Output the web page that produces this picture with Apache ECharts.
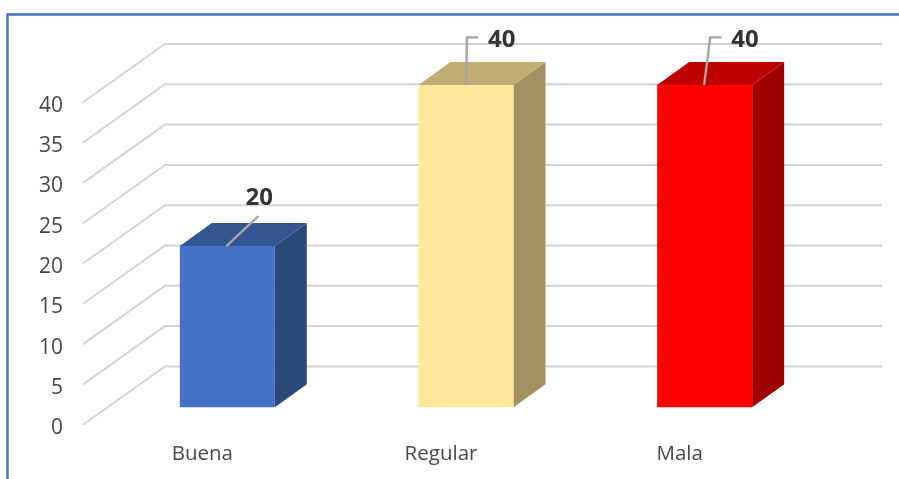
<!DOCTYPE html>
<html>
<head>
<meta charset="utf-8">
<style>html,body{margin:0;padding:0;background:#fff}#c{width:899px;height:479px}</style>
<script src="https://cdn.jsdelivr.net/npm/echarts@6/dist/echarts.min.js"></script>
</head>
<body>
<div id="c"></div>
<script>
const categories = ['Buena', 'Regular', 'Mala'];
const values = [20, 40, 40];
const barColors = ['#4472c4', '#ffe699', '#ff0000'];
const yTicks = [0, 5, 10, 15, 20, 25, 30, 35, 40];

// 3D look (pixels)
const WALL = { dx: 82, dy: 58.3 };
const BAR = { offX: 25, offY: 17.4, w: 95, dx: 32, dy: 23 };
// leader line bends and label anchor, relative to bar front-top centre
const leaders = [
  { pts: [[-1, 0], [31, -30]], label: [32, -47.5], align: 'center' },
  { pts: [[0, 0], [1, -47.5], [12, -47.5]], label: [22, -44.5], align: 'left' },
  { pts: [[-0.5, 0], [5.5, -47.5], [17, -47.5]], label: [26.5, -44.5], align: 'left' }
];

function shade(hex, f) {
  const n = parseInt(hex.slice(1), 16);
  const c = [(n >> 16) & 255, (n >> 8) & 255, n & 255].map(v => Math.round(v * f));
  return 'rgb(' + c.join(',') + ')';
}

function renderWall(params, api) {
  const cs = params.coordSys;
  const y = api.coord([categories[0], api.value(0)])[1];
  return {
    type: 'polyline',
    shape: { points: [[cs.x, y], [cs.x + WALL.dx, y - WALL.dy], [cs.x + 717 + WALL.dx, y - WALL.dy]] },
    style: { stroke: '#d4d4d4', lineWidth: 2, fill: null },
    silent: true
  };
}

function renderBar(params, api) {
  const i = api.value(0);
  const top = api.coord([i, api.value(1)]);
  const base = api.coord([i, 0]);
  const cx = top[0] + BAR.offX;
  const l = cx - BAR.w / 2, r = cx + BAR.w / 2;
  const t = top[1] - BAR.offY, b = base[1] - BAR.offY;
  const col = barColors[i];
  const ld = leaders[i];
  return {
    type: 'group',
    children: [
      { type: 'polygon', shape: { points: [[r, t], [r + BAR.dx, t - BAR.dy], [r + BAR.dx, b - BAR.dy], [r, b]] },
        style: { fill: shade(col, 0.63) } },
      { type: 'polygon', shape: { points: [[l, t], [l + BAR.dx, t - BAR.dy], [r + BAR.dx, t - BAR.dy], [r, t]] },
        style: { fill: shade(col, 0.75) } },
      { type: 'rect', shape: { x: l, y: t, width: BAR.w, height: b - t }, style: { fill: col } },
      { type: 'polyline', shape: { points: ld.pts.map(p => [cx + p[0], t + p[1]]) },
        style: { stroke: '#a6a6a6', lineWidth: 2.4, fill: null } },
      { type: 'text', x: cx + ld.label[0], y: t + ld.label[1],
        style: { text: String(api.value(1)), fill: '#333333', font: 'bold 24px "Open Sans"',
          textAlign: ld.align, textVerticalAlign: 'middle' } }
    ]
  };
}

const chart = echarts.init(document.getElementById('c'), null, { renderer: 'canvas' });
chart.setOption({
  animation: false,
  backgroundColor: '#ffffff',
  grid: { left: 83, top: 102.3, width: 716, height: 322.4, containLabel: false },
  xAxis: {
    type: 'category', data: categories,
    axisLine: { show: false }, axisTick: { show: false },
    axisLabel: { color: '#484848', fontFamily: 'Open Sans', fontSize: 20.5, margin: 19 }
  },
  yAxis: {
    type: 'value', min: 0, max: 40, interval: 5,
    axisLine: { show: false }, axisTick: { show: false }, splitLine: { show: false },
    axisLabel: { color: '#484848', fontFamily: 'Open Sans', fontSize: 21, margin: 20,
      verticalAlign: 'top', lineHeight: 7 }
  },
  graphic: [{
    type: 'polyline', z: 10,
    shape: { points: [[7.5, 479], [7.5, 14.5], [899, 14.5]] },
    style: { stroke: '#4472c4', lineWidth: 2.4, fill: null }
  }],
  series: [
    { type: 'custom', z: 1, clip: false, silent: true, renderItem: renderWall,
      data: yTicks.map(t => [t]), encode: { y: 0 } },
    { type: 'custom', z: 2, clip: false, silent: true, renderItem: renderBar,
      data: values.map((v, i) => [i, v]), encode: { x: 0, y: 1 } }
  ]
});
</script>
</body>
</html>
